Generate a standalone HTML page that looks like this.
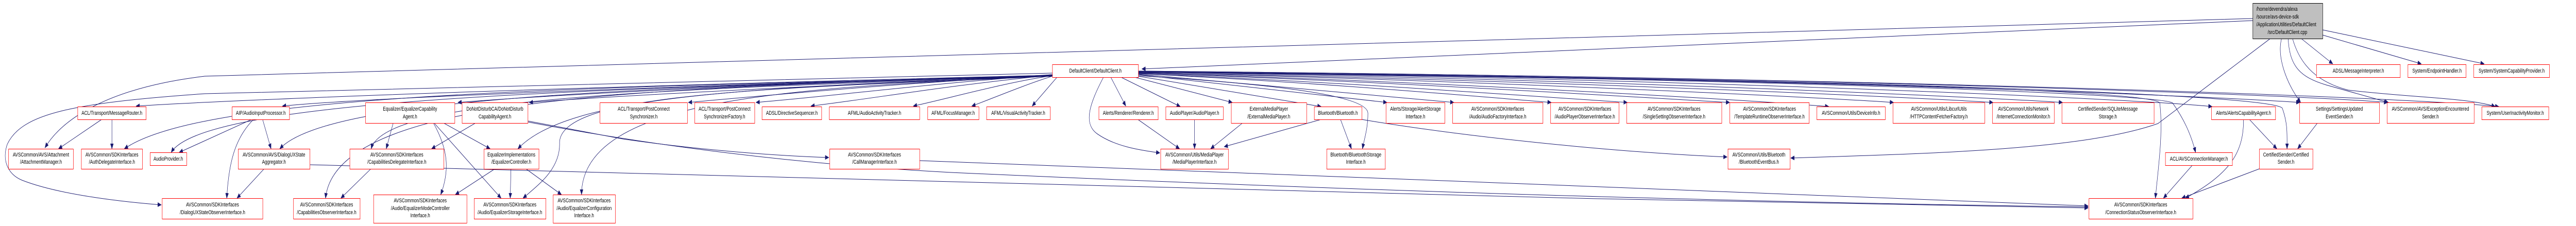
<!DOCTYPE html>
<html><head><meta charset="utf-8"><style>
html,body{margin:0;padding:0;background:#fff;width:100%;height:100%;overflow:hidden;}
svg{display:block;width:100vw;height:100vh;}
text{font-family:"Liberation Sans",Arial,sans-serif;font-size:11.4px;fill:#000;}
.n{fill:#fff;stroke:#ff0000;stroke-width:1;}
.e{fill:none;stroke:#191970;stroke-width:1;marker-end:url(#a);}
</style></head><body>
<svg viewBox="0 0 7043 439" preserveAspectRatio="none" xmlns="http://www.w3.org/2000/svg">
<defs><marker id="a" markerUnits="userSpaceOnUse" markerWidth="11" markerHeight="9" refX="10" refY="4.5" orient="auto"><path d="M0,0 L11,4.5 L0,9 z" fill="#191970"/></marker></defs>

<path class="e" d="M6159,40 L3122,134"/>
<path class="e" d="M6159,36 L560,148 C300,170 170,230 123,287"/>
<path class="e" d="M6292,75 L6378,124"/>
<path class="e" d="M6350,68 L6620,124"/>
<path class="e" d="M6350,58 L6792,124"/>
<path class="e" d="M6207,75 L5900,240 C5700,290 5300,298 4896,307"/>
<path class="e" d="M6238,75 C6225,110 6250,160 6290,199"/>
<path class="e" d="M6256,75 C6260,130 6290,150 6360,165 L6530,199"/>
<path class="e" d="M6268,75 C6290,130 6340,160 6420,175 C6600,190 6750,190 6822,207"/>

<path class="e" d="M2877,146 C1623,168 746,190 372,206"/>
<path class="e" d="M2877,148 C1600,170 560,180 340,289"/>
<path class="e" d="M2877,148 C1650,172 560,190 468,296"/>
<path class="e" d="M2877,146 C1800,168 1000,190 772,206"/>
<path class="e" d="M2877,147 C1800,170 900,185 765,289"/>
<path class="e" d="M2877,147 C1800,172 920,180 890,385"/>
<path class="e" d="M2877,148 C1900,172 1050,185 1015,289"/>
<path class="e" d="M2877,146 C2000,165 1500,185 1252,199"/>
<path class="e" d="M2877,146 C2200,168 1700,185 1447,199"/>
<path class="e" d="M2877,147 C2100,170 1560,180 1416,289"/>
<path class="e" d="M2877,148 C2100,172 1520,180 1530,280 C1530,330 1470,360 1430,385"/>
<path class="e" d="M2877,148 C2200,170 1590,185 1590,378"/>
<path class="e" d="M2877,145 C2400,165 2100,185 1882,199"/>
<path class="e" d="M2877,145 C2500,165 2300,185 2067,199"/>
<path class="e" d="M2877,146 C2600,165 2400,190 2217,206"/>
<path class="e" d="M2877,147 C2750,160 2600,190 2497,206"/>
<path class="e" d="M2877,148 C2800,165 2700,195 2657,206"/>
<path class="e" d="M2890,150 L2822,206"/>
<path class="e" d="M3037,150 L3078,206"/>
<path class="e" d="M3065,150 L3227,207"/>
<path class="e" d="M3017,150 C2980,200 2960,240 3000,260 C3050,285 3120,292 3171,297"/>
<path class="e" d="M3102,150 L3369,199"/>
<path class="e" d="M3112,148 L3612,207"/>
<path class="e" d="M3112,145 L3792,199"/>
<path class="e" d="M3112,144 L3975,199"/>
<path class="e" d="M3112,143 C3600,160 4000,185 4241,199"/>
<path class="e" d="M3112,143 C3700,160 4200,188 4449,199"/>
<path class="e" d="M3112,142 C3800,158 4500,190 4729,199"/>
<path class="e" d="M3112,142 C3900,157 4800,195 5000,207"/>
<path class="e" d="M3112,141 C4000,155 5000,190 5177,199"/>
<path class="e" d="M3112,141 C4200,155 5200,188 5449,199"/>
<path class="e" d="M3112,140 C4300,152 5400,188 5639,199"/>
<path class="e" d="M3112,140 C4500,150 5800,190 6048,207"/>
<path class="e" d="M3112,140 C4500,150 5880,170 5905,200 C5915,260 5900,330 5893,385"/>
<path class="e" d="M3112,140 C4600,150 5900,180 5940,200 C5970,230 5990,260 6003,296"/>
<path class="e" d="M3112,139 C4800,150 6200,180 6240,210 C6255,240 6253,260 6253,289"/>
<path class="e" d="M3112,139 C4800,150 6000,185 6288,199"/>
<path class="e" d="M3112,138 C5000,150 6300,185 6528,199"/>
<path class="e" d="M3112,138 C5000,150 6500,185 6832,207"/>
<path class="e" d="M3112,147 C3400,160 3740,180 3740,220 C3740,250 3730,270 3725,289"/>
<path class="e" d="M2877,142 L560,182 C200,200 60,220 20,280 C5,310 20,338 60,350 C150,375 300,390 441,398"/>

<path class="e" d="M278,232 L160,289"/>
<path class="e" d="M306,232 L306,289"/>
<path class="e" d="M688,232 L490,296"/>
<path class="e" d="M693,232 C640,270 625,320 620,385"/>
<path class="e" d="M718,232 L741,289"/>
<path class="e" d="M722,328 L648,385"/>
<path class="e" d="M1075,239 L1056,289"/>
<path class="e" d="M1185,239 C1225,290 1230,330 1205,378"/>
<path class="e" d="M1187,239 L1370,385"/>
<path class="e" d="M1213,239 L1340,289"/>
<path class="e" d="M1300,239 L1180,289"/>
<path class="e" d="M1443,235 L1703,270 C1900,290 2100,302 2266,306"/>
<path class="e" d="M1443,237 C1800,285 2200,320 2600,335 C4000,380 5000,395 5709,402"/>
<path class="e" d="M847,320 C2000,345 4000,385 5709,404"/>
<path class="e" d="M2514,312 C3500,330 4800,385 5709,400"/>
<path class="e" d="M1014,328 L932,385"/>
<path class="e" d="M1353,328 L1245,378"/>
<path class="e" d="M1397,328 L1395,385"/>
<path class="e" d="M1438,328 L1535,378"/>
<path class="e" d="M3111,232 L3225,289"/>
<path class="e" d="M3266,232 L3266,289"/>
<path class="e" d="M3397,239 L3310,289"/>
<path class="e" d="M3612,232 L3347,285"/>
<path class="e" d="M3665,232 L3695,289"/>
<path class="e" d="M3723,232 C4000,265 4400,295 4722,305"/>
<path class="e" d="M6150,232 L6225,289"/>
<path class="e" d="M6134,232 C6135,300 6090,340 5975,385"/>
<path class="e" d="M6177,328 L5965,385"/>
<path class="e" d="M6336,239 L6282,289"/>
<path class="e" d="M5994,321 L5915,385"/>

<rect x="6159.5" y="6.5" width="191" height="69" fill="#bfbfbf" stroke="#000"/>
<text x="6169" y="21">/home/devendra/alexa</text>
<text x="6169" y="36">/source/avs-device-sdk</text>
<text x="6169" y="51">/ApplicationUtilities/DefaultClient</text>
<text x="6254" y="66" text-anchor="middle">/src/DefaultClient.cpp</text>

<g text-anchor="middle">
<rect class="n" x="2877.5" y="125.5" width="235" height="25"/><text x="2995" y="141">DefaultClient/DefaultClient.h</text>
<rect class="n" x="6333.5" y="125.5" width="229" height="25"/><text x="6448" y="141">ADSL/MessageInterpreter.h</text>
<rect class="n" x="6583.5" y="125.5" width="159" height="25"/><text x="6663" y="141">System/EndpointHandler.h</text>
<rect class="n" x="6763.5" y="125.5" width="207" height="25"/><text x="6867" y="141">System/SystemCapabilityProvider.h</text>

<rect class="n" x="212.5" y="207.5" width="187" height="25"/><text x="306" y="223">ACL/Transport/MessageRouter.h</text>
<rect class="n" x="634.5" y="207.5" width="157" height="25"/><text x="713" y="223">AIP/AudioInputProcessor.h</text>
<rect class="n" x="999.5" y="199.5" width="244" height="40"/><text x="1121" y="215">Equalizer/EqualizerCapability</text><text x="1121" y="230">Agent.h</text>
<rect class="n" x="1263.5" y="199.5" width="180" height="40"/><text x="1353" y="215">DoNotDisturbCA/DoNotDisturb</text><text x="1353" y="230">CapabilityAgent.h</text>
<rect class="n" x="1640.5" y="199.5" width="239" height="40"/><text x="1760" y="215">ACL/Transport/PostConnect</text><text x="1760" y="230">Synchronizer.h</text>
<rect class="n" x="1899.5" y="199.5" width="164" height="40"/><text x="1981" y="215">ACL/Transport/PostConnect</text><text x="1981" y="230">SynchronizerFactory.h</text>
<rect class="n" x="2083.5" y="207.5" width="163" height="25"/><text x="2165" y="223">ADSL/DirectiveSequencer.h</text>
<rect class="n" x="2267.5" y="207.5" width="247" height="25"/><text x="2391" y="223">AFML/AudioActivityTracker.h</text>
<rect class="n" x="2536.5" y="207.5" width="140" height="25"/><text x="2606" y="223">AFML/FocusManager.h</text>
<rect class="n" x="2697.5" y="207.5" width="174" height="25"/><text x="2784" y="223">AFML/VisualActivityTracker.h</text>
<rect class="n" x="3004.5" y="207.5" width="162" height="25"/><text x="3085" y="223">Alerts/Renderer/Renderer.h</text>
<rect class="n" x="3187.5" y="207.5" width="157" height="25"/><text x="3266" y="223">AudioPlayer/AudioPlayer.h</text>
<rect class="n" x="3366.5" y="199.5" width="206" height="40"/><text x="3469" y="215">ExternalMediaPlayer</text><text x="3469" y="230">/ExternalMediaPlayer.h</text>
<rect class="n" x="3593.5" y="207.5" width="130" height="25"/><text x="3658" y="223">Bluetooth/Bluetooth.h</text>
<rect class="n" x="3789.5" y="199.5" width="161" height="40"/><text x="3870" y="215">Alerts/Storage/AlertStorage</text><text x="3870" y="230">Interface.h</text>
<rect class="n" x="3971.5" y="199.5" width="247" height="40"/><text x="4095" y="215">AVSCommon/SDKInterfaces</text><text x="4095" y="230">/Audio/AudioFactoryInterface.h</text>
<rect class="n" x="4239.5" y="199.5" width="187" height="40"/><text x="4333" y="215">AVSCommon/SDKInterfaces</text><text x="4333" y="230">/AudioPlayerObserverInterface.h</text>
<rect class="n" x="4447.5" y="199.5" width="260" height="40"/><text x="4577" y="215">AVSCommon/SDKInterfaces</text><text x="4577" y="230">/SingleSettingObserverInterface.h</text>
<rect class="n" x="4729.5" y="199.5" width="217" height="40"/><text x="4838" y="215">AVSCommon/SDKInterfaces</text><text x="4838" y="230">/TemplateRuntimeObserverInterface.h</text>
<rect class="n" x="4967.5" y="207.5" width="187" height="25"/><text x="5061" y="223">AVSCommon/Utils/DeviceInfo.h</text>
<rect class="n" x="5175.5" y="199.5" width="251" height="40"/><text x="5301" y="215">AVSCommon/Utils/LibcurlUtils</text><text x="5301" y="230">/HTTPContentFetcherFactory.h</text>
<rect class="n" x="5447.5" y="199.5" width="169" height="40"/><text x="5532" y="215">AVSCommon/Utils/Network</text><text x="5532" y="230">/InternetConnectionMonitor.h</text>
<rect class="n" x="5637.5" y="199.5" width="252" height="40"/><text x="5763" y="215">CertifiedSender/SQLiteMessage</text><text x="5763" y="230">Storage.h</text>
<rect class="n" x="6046.5" y="207.5" width="175" height="25"/><text x="6134" y="223">Alerts/AlertsCapabilityAgent.h</text>
<rect class="n" x="6287.5" y="199.5" width="218" height="40"/><text x="6396" y="215">Settings/SettingsUpdated</text><text x="6396" y="230">EventSender.h</text>
<rect class="n" x="6526.5" y="199.5" width="238" height="40"/><text x="6645" y="215">AVSCommon/AVS/ExceptionEncountered</text><text x="6645" y="230">Sender.h</text>
<rect class="n" x="6785.5" y="207.5" width="183" height="25"/><text x="6877" y="223">System/UserInactivityMonitor.h</text>

<rect class="n" x="23.5" y="289.5" width="177" height="39"/><text x="112" y="304">AVSCommon/AVS/Attachment</text><text x="112" y="318">/AttachmentManager.h</text>
<rect class="n" x="222.5" y="289.5" width="167" height="39"/><text x="306" y="304">AVSCommon/SDKInterfaces</text><text x="306" y="318">/AuthDelegateInterface.h</text>
<rect class="n" x="410.5" y="296.5" width="100" height="25"/><text x="460" y="312">AudioProvider.h</text>
<rect class="n" x="651.5" y="289.5" width="196" height="39"/><text x="749" y="304">AVSCommon/AVS/DialogUXState</text><text x="749" y="318">Aggregator.h</text>
<rect class="n" x="956.5" y="289.5" width="257" height="39"/><text x="1085" y="304">AVSCommon/SDKInterfaces</text><text x="1085" y="318">/CapabilitiesDelegateInterface.h</text>
<rect class="n" x="1323.5" y="289.5" width="150" height="39"/><text x="1398" y="304">EqualizerImplementations</text><text x="1398" y="318">/EqualizerController.h</text>
<rect class="n" x="2268.5" y="289.5" width="246" height="39"/><text x="2391" y="304">AVSCommon/SDKInterfaces</text><text x="2391" y="318">/CallManagerInterface.h</text>
<rect class="n" x="3173.5" y="289.5" width="185" height="39"/><text x="3266" y="304">AVSCommon/Utils/MediaPlayer</text><text x="3266" y="318">/MediaPlayerInterface.h</text>
<rect class="n" x="3627.5" y="289.5" width="160" height="39"/><text x="3707" y="304">Bluetooth/BluetoothStorage</text><text x="3707" y="318">Interface.h</text>
<rect class="n" x="4724.5" y="289.5" width="170" height="39"/><text x="4809" y="304">AVSCommon/Utils/Bluetooth</text><text x="4809" y="318">/BluetoothEventBus.h</text>
<rect class="n" x="5920.5" y="296.5" width="183" height="25"/><text x="6012" y="312">ACL/AVSConnectionManager.h</text>
<rect class="n" x="6177.5" y="289.5" width="146" height="39"/><text x="6250" y="304">CertifiedSender/Certified</text><text x="6250" y="318">Sender.h</text>

<rect class="n" x="443.5" y="385.5" width="275" height="40"/><text x="581" y="401">AVSCommon/SDKInterfaces</text><text x="581" y="416">/DialogUXStateObserverInterface.h</text>
<rect class="n" x="802.5" y="385.5" width="182" height="40"/><text x="893" y="401">AVSCommon/SDKInterfaces</text><text x="893" y="416">/CapabilitiesObserverInterface.h</text>
<rect class="n" x="1021.5" y="378.5" width="255" height="55"/><text x="1149" y="393">AVSCommon/SDKInterfaces</text><text x="1149" y="408">/Audio/EqualizerModeController</text><text x="1149" y="422">Interface.h</text>
<rect class="n" x="1296.5" y="385.5" width="196" height="40"/><text x="1394" y="401">AVSCommon/SDKInterfaces</text><text x="1394" y="416">/Audio/EqualizerStorageInterface.h</text>
<rect class="n" x="1512.5" y="378.5" width="170" height="55"/><text x="1597" y="393">AVSCommon/SDKInterfaces</text><text x="1597" y="408">/Audio/EqualizerConfiguration</text><text x="1597" y="422">Interface.h</text>
<rect class="n" x="5711.5" y="385.5" width="284" height="40"/><text x="5853" y="401">AVSCommon/SDKInterfaces</text><text x="5853" y="416">/ConnectionStatusObserverInterface.h</text>
</g>
</svg>
</body></html>
